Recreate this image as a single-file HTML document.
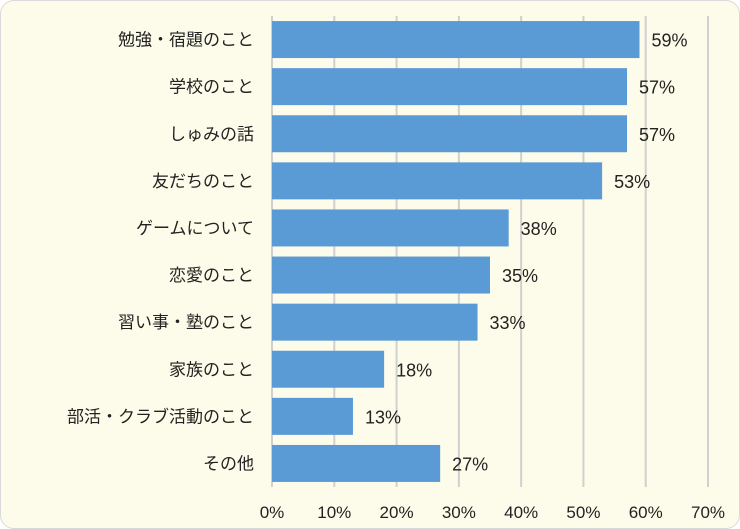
<!DOCTYPE html>
<html><head><meta charset="utf-8"><style>
html,body{margin:0;padding:0;background:#fff;}
#wrap{position:relative;width:738px;height:527px;border:1px solid #d9d9d9;border-radius:14px;background:#fdfcea;overflow:hidden;}
#chart{position:absolute;left:-1px;top:-1px;}
svg text{font-family:"Liberation Sans","Noto Sans CJK JP",sans-serif;fill:#222;}
</style></head><body>
<div id="wrap">
<svg id="chart" width="740" height="529"></svg>
</div>
<script>
const categories=["勉強・宿題のこと","学校のこと","しゅみの話","友だちのこと","ゲームについて","恋愛のこと","習い事・塾のこと","家族のこと","部活・クラブ活動のこと","その他"];
const values=[59,57,57,53,38,35,33,18,13,27];
const ticks=[0,10,20,30,40,50,60,70];
const NS="http://www.w3.org/2000/svg";
const svgEl=document.getElementById('chart');
const plotX0=272,plotX1=708,plotTop=16,plotBottom=487;
const band=(plotBottom-plotTop)/categories.length, barH=37;
function xs(v){return plotX0+(v/70)*(plotX1-plotX0);}
function yc(i){return plotTop+band*(i+0.5);}
function mk(t,a){const e=document.createElementNS(NS,t);for(const k in a)e.setAttribute(k,a[k]);svgEl.appendChild(e);return e;}
ticks.forEach(t=>{
 const g=mk('line',{x1:xs(t),x2:xs(t),y1:plotTop,y2:plotBottom,stroke:'#d0d0d0','stroke-width':2});
 
 
 const l=mk('text',{x:xs(t),y:518,'text-anchor':'middle','font-size':17});
 l.textContent=t+'%';
 
 
});
categories.forEach((c,i)=>{
 const y=yc(i);
 const b=mk('rect',{x:plotX0,y:y-barH/2,width:xs(values[i])-plotX0,height:barH,fill:'#5b9bd5'});
 
 
 const cl=mk('text',{x:254,y:y+6,'text-anchor':'end','font-size':17});
 cl.textContent=c;
 
 
 const vl=mk('text',{x:xs(values[i])+12,y:y+7,'font-size':18});
 vl.textContent=values[i]+'%';
 
 
});
</script>
</body></html>
